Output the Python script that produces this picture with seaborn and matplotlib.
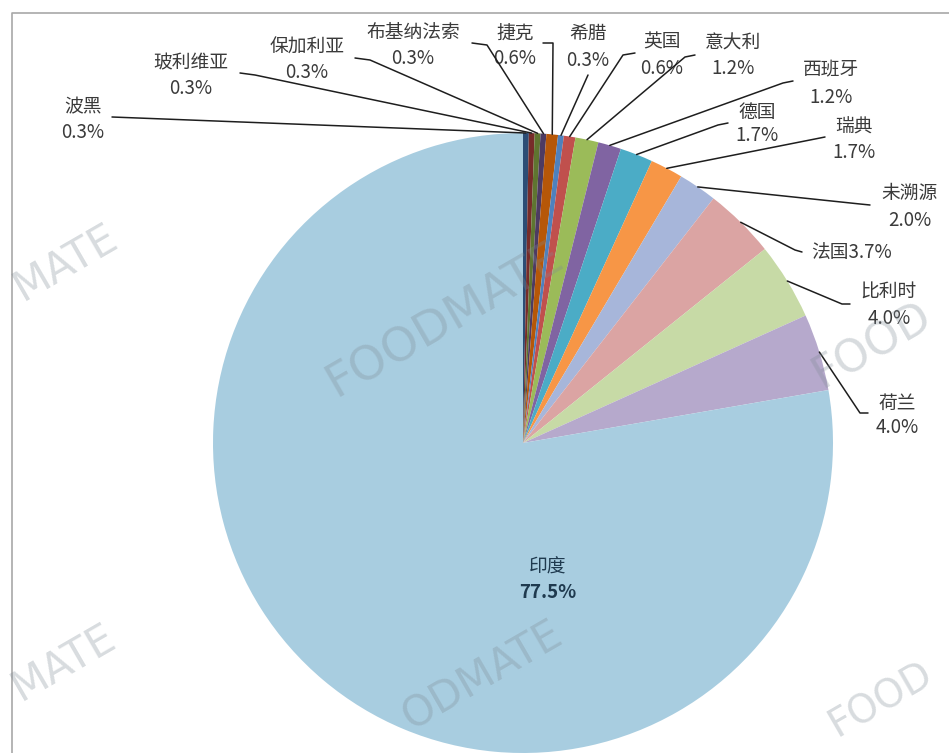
import matplotlib
matplotlib.use("Agg")
import matplotlib.pyplot as plt
import seaborn as sns
import numpy as np

# origin share of samples, listed clockwise from 12 o'clock
countries = ["波黑", "玻利维亚", "保加利亚", "布基纳法索", "捷克", "希腊", "英国", "意大利",
             "西班牙", "德国", "瑞典", "未溯源", "法国", "比利时", "荷兰", "印度"]
shares = [0.3, 0.3, 0.3, 0.3, 0.6, 0.3, 0.6, 1.2, 1.2, 1.7, 1.7, 2.0, 3.7, 4.0, 4.0, 77.5]
pct_labels = ["0.3%", "0.3%", "0.3%", "0.3%", "0.6%", "0.3%", "0.6%", "1.2%",
              "1.2%", "1.7%", "1.7%", "2.0%", "3.7%", "4.0%", "4.0%", "77.5%"]

colors = ["#2c4d75", "#772c2a", "#5f7530", "#4d3b62", "#b65708", "#4f81bd", "#c0504d", "#9bbb59",
          "#8064a2", "#4bacc6", "#f79646", "#a7b6da", "#dba4a3", "#c7daa6", "#b6a9cc", "#a8cde0"]

# label layout in pixels: (x, y of name, y of pct); leader anchor + elbow
label_pos = {
    "波黑": (83, 107, 132), "玻利维亚": (191, 63, 88), "保加利亚": (307, 47, 72),
    "布基纳法索": (413, 32, 58), "捷克": (515, 33, 58), "希腊": (588, 33, 60),
    "英国": (662, 42, 68), "意大利": (733, 43, 68), "西班牙": (831, 70, 97),
    "德国": (757, 112, 135), "瑞典": (854, 127, 152), "未溯源": (910, 193, 220),
    "法国": (852, 253, None), "比利时": (889, 292, 318), "荷兰": (897, 403, 427),
    "印度": (548, 567, 593),
}
leader = {
    "波黑": [(112, 117)], "玻利维亚": [(240, 73), (255, 75)], "保加利亚": [(355, 58), (370, 60)],
    "布基纳法索": [(472, 43), (487, 45)], "捷克": [(543, 43), (553, 43)], "希腊": [(588, 75)],
    "英国": [(635, 53), (623, 55)], "意大利": [(695, 55), (685, 57)], "西班牙": [(793, 81), (783, 83)],
    "德国": [(728, 123), (718, 125)], "瑞典": [(825, 137), (815, 139)], "未溯源": [(870, 205), (860, 204)],
    "法国": [(802, 252), (795, 250)], "比利时": [(850, 304), (842, 304)], "荷兰": [(868, 413), (860, 413)],
}

# watermark fragments visible in the picture
watermarks = [("MATE", 66, 262, 30), ("FOODMATE", 445, 320, 34), ("FOOD", 872, 345, 32),
              ("MATE", 64, 662, 30), ("ODMATE", 482, 676, 30), ("FOOD", 880, 700, 28)]

W, H = 949, 753
cx, cy, R = 523, 443, 310


def P(x, y):
    return x, H - y


sns.set_style("white")
plt.rcParams['font.family'] = ['Noto Sans CJK SC', 'DejaVu Sans']

fig = plt.figure(figsize=(W / 100, H / 100), dpi=100)
ax = fig.add_axes([0, 0, 1, 1])
pal = sns.color_palette(colors)

ax.pie(shares, colors=pal, startangle=90, counterclock=False, center=P(cx, cy), radius=R,
       wedgeprops=dict(linewidth=0), frame=True)
ax.set_xlim(0, W)
ax.set_ylim(0, H)
ax.set_aspect('equal')
ax.axis('off')

# plot area border
ax.plot([12, 12, W + 5], [0, H - 13, H - 13], color="#a8a8a8", lw=1.2, clip_on=False)

for word, wx, wy, fs in watermarks:
    ax.text(*P(wx, wy), word, rotation=30, fontsize=fs, color="#7f8a94", alpha=0.3,
            ha="center", va="center", family="DejaVu Sans", zorder=5)

# labels and leader lines
total = sum(shares)
cum = np.cumsum([0] + shares[:-1])
for name, share, pct, c0 in zip(countries, shares, pct_labels, cum):
    lx, ly1, ly2 = label_pos[name]
    txt_color = "#1f3a4f" if name == "印度" else "#3a3a3a"
    if ly2 is None:
        ax.text(*P(lx, ly1), name + pct, fontsize=13.5, color=txt_color, ha="center", va="center")
    else:
        ax.text(*P(lx, ly1), name, fontsize=13.5, color=txt_color, ha="center", va="center")
        ax.text(*P(lx, ly2), pct, fontsize=13.5, color=txt_color, ha="center", va="center",
                fontweight="bold" if name == "印度" else "normal")
    if name in leader:
        ang = np.deg2rad((c0 + share / 2) / total * 360)
        ex, ey = cx + R * np.sin(ang), cy - R * np.cos(ang)
        pts = leader[name] + [(ex, ey)]
        xs = [p[0] for p in pts]
        ys = [H - p[1] for p in pts]
        ax.plot(xs, ys, color="#1e1e1e", lw=1.1, zorder=4)

fig.savefig("out.png", dpi=100)
